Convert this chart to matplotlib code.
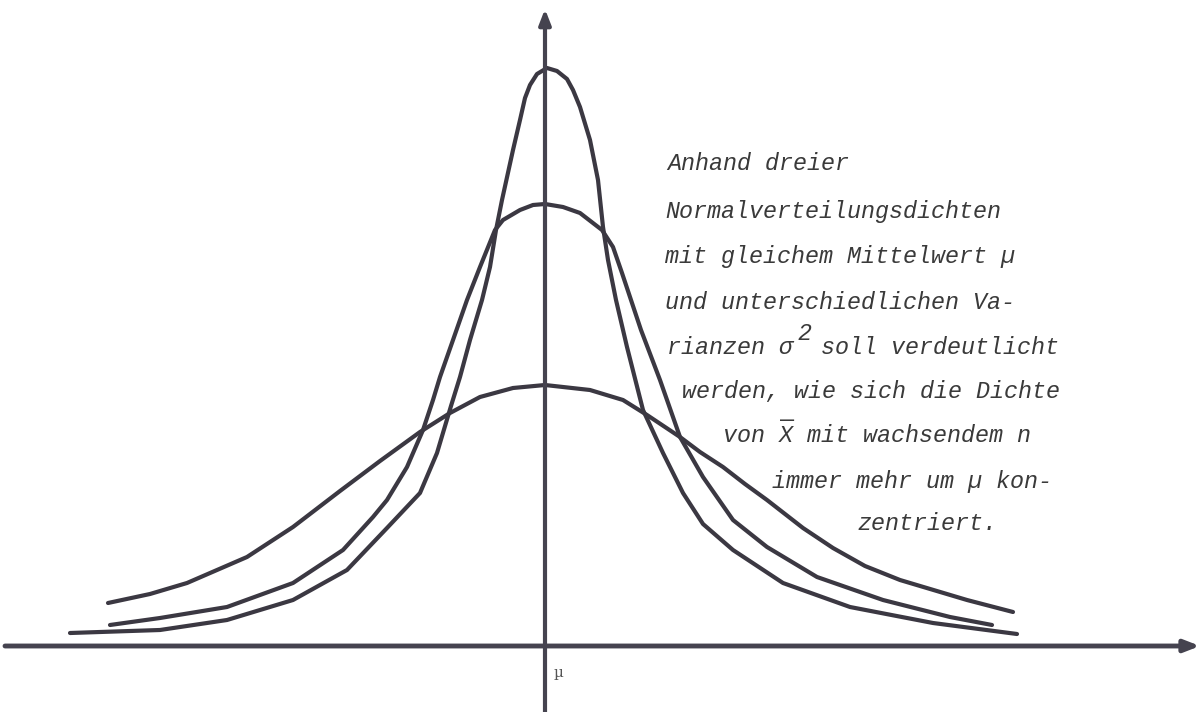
import matplotlib.pyplot as plt

# Three densities with common mean mu (x measured from mu, height above the x-axis)
flat_x = [-437, -395, -358, -298, -252, -205, -165, -125, -95, -65, -32, 0,
          45, 78, 102, 135, 155, 178, 200, 222, 240, 258, 288, 320, 355, 422, 468]
flat_y = [43, 52, 63, 89, 119, 155, 185, 214, 233, 249, 258, 261,
          256, 246, 231, 209, 194, 179, 162, 146, 132, 118, 98, 80, 66, 46, 34]

mid_x = [-435, -385, -318, -252, -202, -172, -158, -138, -122, -112,
         -105, -92, -78, -65, -50, -42, -25, -12, 0, 18,
         35, 57, 68, 77, 86, 96, 115, 135, 158, 188,
         222, 272, 338, 405, 447]
mid_y = [21, 28, 39, 63, 96, 129, 146, 179, 216, 246,
         269, 306, 346, 379, 416, 426, 436, 441, 442, 439,
         433, 416, 399, 373, 346, 316, 266, 209, 169, 126,
         99, 69, 46, 29, 21]

tall_x = [-475, -385, -318, -252, -198, -158, -125, -108, -94, -85,
          -75, -63, -55, -49, -43, -32, -25, -20, -15, -8,
          2, 12, 22, 28, 35, 45, 53, 58, 63, 71,
          82, 98, 118, 138, 158, 188, 238, 305, 388, 472]
tall_y = [13, 16, 26, 46, 76, 118, 153, 193, 240, 269,
          306, 346, 379, 416, 446, 496, 526, 548, 561, 572,
          578, 575, 567, 556, 539, 506, 466, 419, 386, 346,
          299, 236, 193, 153, 122, 96, 63, 39, 23, 12]

text_lines = [
    "Anhand dreier",
    "Normalverteilungsdichten",
    "mit gleichem Mittelwert \u00b5",
    "und unterschiedlichen Va-",
    "rianzen \u03c3",
    "werden, wie sich die Dichte",
    "von X mit wachsendem n",
    "immer mehr um \u00b5 kon-",
    "zentriert.",
]
text_x = [122, 120, 120, 120, 122, 137, 178, 227, 313]
text_base = [476, 428, 383, 337, 292, 248, 204, 158, 116]

ink = "#3b3842"
axis_ink = "#45434f"
text_ink = "#3a3a3a"

fig = plt.figure(figsize=(12.01, 7.12), dpi=100)
ax = fig.add_axes([0, 0, 1, 1])
ax.set_xlim(-545, 656)
ax.set_ylim(-66, 646)
ax.axis("off")

# coordinate axes with arrow heads
ax.annotate("", xy=(655, 0), xytext=(-540, 0),
            arrowprops=dict(arrowstyle="-|>,head_length=0.9,head_width=0.35",
                            lw=3.5, color=axis_ink, shrinkA=0, shrinkB=0))
ax.annotate("", xy=(0, 637), xytext=(0, -70),
            arrowprops=dict(arrowstyle="-|>,head_length=0.9,head_width=0.35",
                            lw=3.0, color=axis_ink, shrinkA=0, shrinkB=0))

for xs, ys in [(flat_x, flat_y), (mid_x, mid_y), (tall_x, tall_y)]:
    ax.plot(xs, ys, color=ink, lw=3.0, solid_capstyle="round", solid_joinstyle="round")

ax.text(14, -27, "\u00b5", fontsize=11, color="#555555", family="DejaVu Serif",
        ha="center", va="center")

font_size = 16.8
char_w = 0.6 * font_size * 100 / 72
mono = dict(fontsize=font_size, family="Liberation Mono", style="italic",
            color=text_ink, va="baseline", ha="left")
for s, x, y in zip(text_lines, text_x, text_base):
    ax.text(x, y, s, **mono)

# rest of the sigma line, its superscript and the bar over X
ax.text(text_x[4] + 11 * char_w, text_base[4], "soll verdeutlicht", **mono)
ax.text(text_x[4] + 9.3 * char_w, text_base[4] + 14, "2", **mono)
ax.text(text_x[6] + 4 * char_w + 1, text_base[6] + 3, "\u00af", fontsize=font_size,
        family="Liberation Mono", color=text_ink, va="baseline")

fig.savefig("out.png", dpi=100)
